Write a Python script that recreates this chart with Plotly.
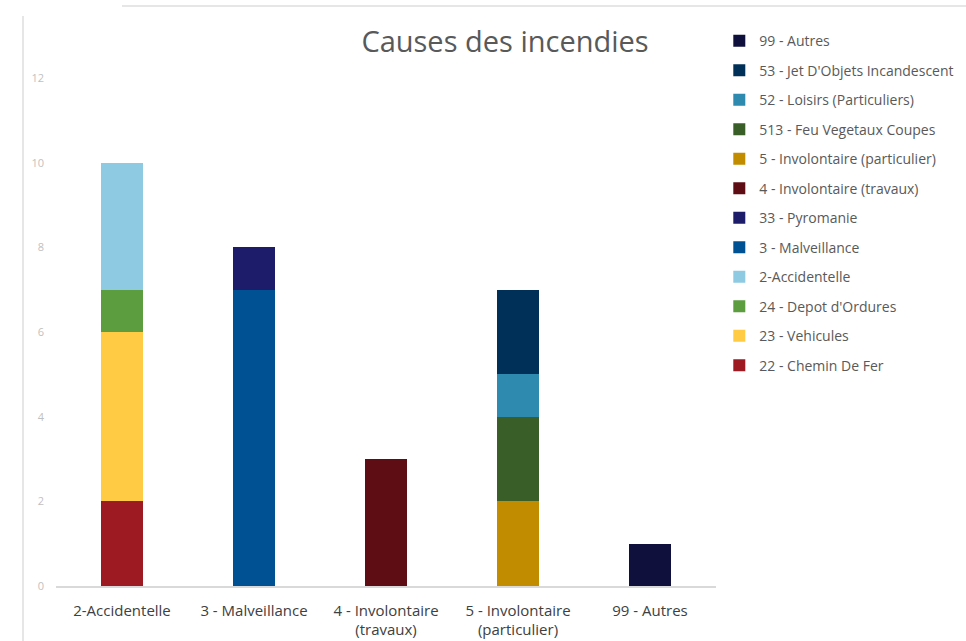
import plotly.graph_objects as go

categories = ["2-Accidentelle", "3 - Malveillance", "4 - Involontaire<br>(travaux)",
              "5 - Involontaire<br>(particulier)", "99 - Autres"]

series_names = ["22 - Chemin De Fer", "23 - Vehicules", "24 - Depot d'Ordures", "2-Accidentelle",
                "3 - Malveillance", "33 - Pyromanie", "4 - Involontaire (travaux)",
                "5 - Involontaire (particulier)", "513 - Feu Vegetaux Coupes",
                "52 - Loisirs (Particuliers)", "53 - Jet D'Objets Incandescent", "99 - Autres"]

chemin_de_fer = [2, 0, 0, 0, 0]
vehicules = [4, 0, 0, 0, 0]
depot_ordures = [1, 0, 0, 0, 0]
accidentelle = [3, 0, 0, 0, 0]
malveillance = [0, 7, 0, 0, 0]
pyromanie = [0, 1, 0, 0, 0]
invol_travaux = [0, 0, 3, 0, 0]
invol_particulier = [0, 0, 0, 2, 0]
feu_vegetaux = [0, 0, 0, 2, 0]
loisirs = [0, 0, 0, 1, 0]
jet_objets = [0, 0, 0, 2, 0]
autres = [0, 0, 0, 0, 1]

series_values = [chemin_de_fer, vehicules, depot_ordures, accidentelle, malveillance, pyromanie,
                 invol_travaux, invol_particulier, feu_vegetaux, loisirs, jet_objets, autres]

colors = ["#9E1A22", "#FFCB45", "#5B9D3F", "#8ECAE2", "#005193", "#1D1C6A", "#5E0D14",
          "#C28C00", "#3A5E28", "#2E8AAE", "#002F57", "#10103D"]

y_ticks = [0, 2, 4, 6, 8, 10, 12]

fig = go.Figure()
n = len(series_names)
for i, (name, vals, col) in enumerate(zip(series_names, series_values, colors)):
    fig.add_trace(go.Bar(
        x=categories, y=[v if v else None for v in vals], name=name,
        marker=dict(color=col, line=dict(width=0)),
        legendgroup=name, legendrank=n - i, hoverinfo="skip"))

fig.update_layout(
    barmode="stack",
    bargap=0.682,
    width=966, height=641,
    paper_bgcolor="white", plot_bgcolor="white",
    margin=dict(l=56, r=250, t=78, b=55, autoexpand=False),
    font=dict(family="Open Sans", color="#595959"),
    title=dict(text="Causes des incendies", x=(505) / 966, xanchor="center",
               y=1 - 42 / 641, yanchor="middle",
               font=dict(size=29, color="#595959", family="Open Sans")),
    legend=dict(x=1.005, xanchor="left", y=1.104, yanchor="top",
                traceorder="grouped", tracegroupgap=8.3, maxheight=620,
                font=dict(size=14, color="#595959"), itemwidth=30,
                bgcolor="rgba(0,0,0,0)"),
    xaxis=dict(showline=True, linecolor="#D9D9D9", linewidth=1.5, ticks="",
               tickfont=dict(size=15, color="#404040"), showgrid=False,
               range=[-0.5, 4.5], ticklabelstandoff=10),
    yaxis=dict(range=[0, 12], tickvals=y_ticks, showgrid=False, zeroline=False,
               showline=False, tickfont=dict(size=11, color="#BFBFBF"),
               ticklabelstandoff=11),
    shapes=[
        dict(type="line", xref="paper", yref="paper", x0=(122 - 56) / 660, x1=(966 - 56) / 660,
             y0=(586 - 6) / 508, y1=(586 - 6) / 508, line=dict(color="#E6E6E6", width=2)),
        dict(type="line", xref="paper", yref="paper", x0=(23 - 56) / 660, x1=(23 - 56) / 660,
             y0=(586 - 16) / 508, y1=(586 - 645) / 508, line=dict(color="#E6E6E6", width=2)),
    ],
)

fig.write_html("out.html", config={"displayModeBar": False},
               post_script="document.body.style.margin='0';document.body.style.overflow='hidden';")
